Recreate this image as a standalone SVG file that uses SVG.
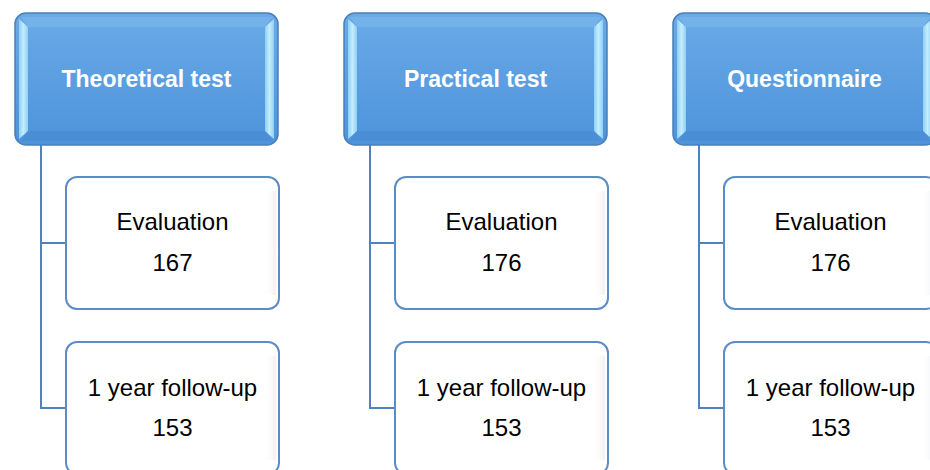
<svg xmlns="http://www.w3.org/2000/svg" width="930" height="470" viewBox="0 0 930 470">
<defs>
<linearGradient id="face" x1="0" y1="0" x2="0" y2="1">
<stop offset="0" stop-color="#6aaae6"/>
<stop offset="1" stop-color="#4d94dc"/>
</linearGradient>
<linearGradient id="side" x1="0" y1="0" x2="1" y2="0">
<stop offset="0" stop-color="#8fd0f5"/>
<stop offset="0.5" stop-color="#c4ecfc"/>
<stop offset="1" stop-color="#8fd0f5"/>
</linearGradient>
<linearGradient id="shade" x1="0" y1="0" x2="1" y2="0">
<stop offset="0" stop-color="#ffffff" stop-opacity="0"/>
<stop offset="1" stop-color="#eef0f3"/>
</linearGradient>
<g id="header">
<rect x="0" y="0" width="263" height="132" rx="11" fill="url(#face)" stroke="#4a7fb8" stroke-width="1.5"/>
<polygon points="4,6 13,14 13,118 4,126" fill="url(#side)"/>
<polygon points="259,6 250,14 250,118 259,126" fill="url(#side)"/>
<polygon points="6,4 257,4 250,14 13,14" fill="#74b2ea"/>
<polygon points="6,128 257,128 250,118 13,118" fill="#4a8fd6"/>
</g>
<g id="child">
<rect x="0" y="0" width="213" height="132" rx="11" fill="#ffffff" stroke="#5a8cc6" stroke-width="2"/>
<rect x="198" y="14" width="12" height="104" fill="url(#shade)"/>
</g>
</defs>
<style>
.h{font-family:"Liberation Sans",Arial,sans-serif;font-weight:bold;font-size:23px;fill:#ffffff;text-anchor:middle}
.c{font-family:"Liberation Sans",Arial,sans-serif;font-size:24px;fill:#000000;text-anchor:middle}
.ln{fill:none;stroke:#4f81bd;stroke-width:2}
</style>
<g id="connectors">
<path class="ln" d="M41,145 V408 H66 M41,243 H66"/>
<path class="ln" d="M370,145 V408 H395 M370,243 H395"/>
<path class="ln" d="M699,145 V408 H724 M699,243 H724"/>
</g>
<g id="n1">
<use href="#header" x="15" y="13"/>
<text class="h" x="146.5" y="87">Theoretical test</text>
</g>
<g id="n1a">
<use href="#child" x="66" y="177"/>
<text class="c" x="172.5" y="230">Evaluation</text>
<text class="c" x="172.5" y="271">167</text>
</g>
<g id="n1b">
<use href="#child" x="66" y="342"/>
<text class="c" x="172.5" y="396">1 year follow-up</text>
<text class="c" x="172.5" y="436">153</text>
</g>
<g id="n2">
<use href="#header" x="344" y="13"/>
<text class="h" x="475.5" y="87">Practical test</text>
</g>
<g id="n2a">
<use href="#child" x="395" y="177"/>
<text class="c" x="501.5" y="230">Evaluation</text>
<text class="c" x="501.5" y="271">176</text>
</g>
<g id="n2b">
<use href="#child" x="395" y="342"/>
<text class="c" x="501.5" y="396">1 year follow-up</text>
<text class="c" x="501.5" y="436">153</text>
</g>
<g id="n3">
<use href="#header" x="673" y="13"/>
<text class="h" x="804.5" y="87">Questionnaire</text>
</g>
<g id="n3a">
<use href="#child" x="724" y="177"/>
<text class="c" x="830.5" y="230">Evaluation</text>
<text class="c" x="830.5" y="271">176</text>
</g>
<g id="n3b">
<use href="#child" x="724" y="342"/>
<text class="c" x="830.5" y="396">1 year follow-up</text>
<text class="c" x="830.5" y="436">153</text>
</g>
</svg>
